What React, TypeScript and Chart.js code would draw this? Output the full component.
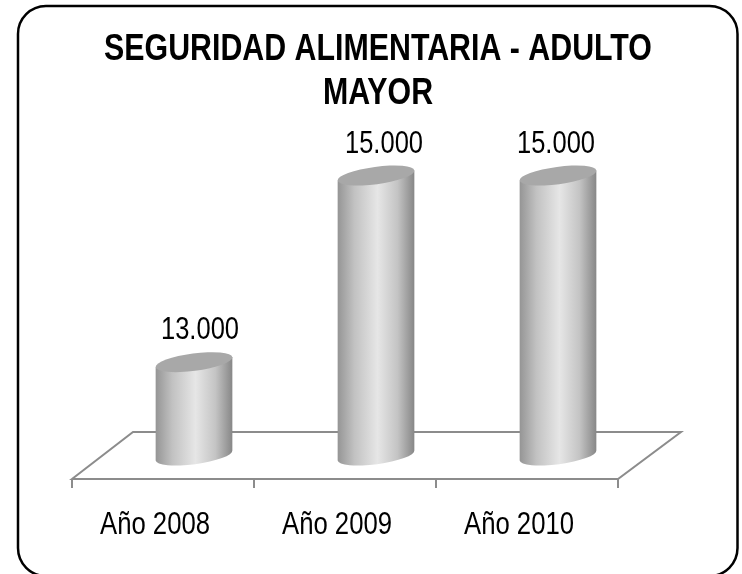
import React, { useEffect, useRef } from "react";
import { Chart, registerables } from "chart.js";

Chart.register(...registerables);

const categories = ["Año 2008", "Año 2009", "Año 2010"];
const seriesValues = [13000, 15000, 15000];
const titleLines = ["SEGURIDAD ALIMENTARIA - ADULTO", "MAYOR"];
const labelNudge = [6, 8, -2];

const FONT = "'Liberation Sans', Arial, sans-serif";
const formatValue = (v: number) =>
  String(v).replace(/\B(?=(\d{3})+$)/g, ".");

const framePlugin = {
  id: "frame",
  beforeDraw(chart: any) {
    const { ctx } = chart;
    ctx.save();
    ctx.fillStyle = "#ffffff";
    ctx.fillRect(0, 0, chart.width, chart.height);
    ctx.strokeStyle = "#000000";
    ctx.lineWidth = 2.5;
    ctx.beginPath();
    ctx.roundRect(2, 6, 719.5, 570, 28);
    ctx.stroke();
    ctx.restore();
  },
  afterLayout(chart: any) {
    // the reference's title is condensed horizontally; no narrow face is installed
    const tb = chart.titleBlock;
    if (!tb || tb.__condensed) return;
    tb.__condensed = true;
    const orig = tb.draw.bind(tb);
    tb.draw = (area: any) => {
      const c = chart.width / 2;
      tb.left = 0;
      tb.right = chart.width;
      chart.ctx.save();
      chart.ctx.translate(c, 0);
      chart.ctx.scale(0.843, 1);
      chart.ctx.translate(-c, 0);
      orig(area);
      chart.ctx.restore();
    };
  },
};

const floorPlugin = {
  id: "floor",
  beforeDatasetsDraw(chart: any) {
    const { ctx, scales } = chart;
    const x = scales.x;
    const base = scales.y.getPixelForValue(scales.y.min);
    const d = 31;
    const h = 23.5;
    ctx.save();
    ctx.strokeStyle = "#8c8c8c";
    ctx.lineWidth = 2;
    ctx.lineJoin = "miter";
    ctx.beginPath();
    ctx.moveTo(x.left - d, base + h);
    ctx.lineTo(x.left + d - 1, base - h);
    ctx.lineTo(x.right + d + 1, base - h);
    ctx.lineTo(x.right - d, base + h);
    ctx.closePath();
    ctx.stroke();
    const band = (x.right - x.left) / categories.length;
    ctx.beginPath();
    for (let i = 0; i <= categories.length; i++) {
      const px = x.left - d + band * i;
      ctx.moveTo(px, base + h);
      ctx.lineTo(px, base + h + 9);
    }
    ctx.stroke();

    ctx.fillStyle = "#000000";
    ctx.font = `31px ${FONT}`;
    ctx.textAlign = "center";
    ctx.textBaseline = "middle";
    categories.forEach((label, i) => {
      ctx.fillText(label, x.getPixelForTick(i) - 39, base + 69.5, 110);
    });
    ctx.restore();
  },
};

const cylinderPlugin = {
  id: "cylinder",
  beforeDatasetDraw(chart: any, args: any) {
    const { ctx, scales } = chart;
    const meta = args.meta;
    const rot = -0.13;
    const base = scales.y.getPixelForValue(scales.y.min);
    ctx.save();
    meta.data.forEach((el: any, i: number) => {
      const p = el.getProps(["x", "y", "width"], true);
      const rx = p.width / 2;
      const ry = 8.7;
      const dx = rx * Math.cos(rot);
      const dy = rx * Math.sin(rot);
      const g = ctx.createLinearGradient(p.x - dx, 0, p.x + dx, 0);
      g.addColorStop(0, "#959595");
      g.addColorStop(0.22, "#c2c2c2");
      g.addColorStop(0.52, "#e6e6e6");
      g.addColorStop(0.78, "#c4c4c4");
      g.addColorStop(1, "#878787");
      ctx.fillStyle = g;
      ctx.beginPath();
      ctx.moveTo(p.x - dx, p.y - dy);
      ctx.lineTo(p.x - dx, base - dy);
      ctx.ellipse(p.x, base, rx, ry, rot, Math.PI, 0, true);
      ctx.lineTo(p.x + dx, p.y + dy);
      ctx.closePath();
      ctx.fill();
      ctx.fillStyle = "#a8a8a8";
      ctx.beginPath();
      ctx.ellipse(p.x, p.y, rx, ry, rot, 0, Math.PI * 2);
      ctx.fill();

      ctx.fillStyle = "#000000";
      ctx.font = `32px ${FONT}`;
      ctx.textAlign = "center";
      ctx.textBaseline = "middle";
      ctx.fillText(formatValue(seriesValues[i]), p.x + labelNudge[i], p.y - 31.5, 78);
    });
    ctx.restore();
    return false;
  },
};

export default function App() {
  const ref = useRef<HTMLCanvasElement>(null);
  useEffect(() => {
    const chart = new Chart(ref.current!, {
      type: "bar",
      data: {
        labels: categories,
        datasets: [
          {
            label: "Seguridad alimentaria",
            data: seriesValues,
            backgroundColor: "#bfbfbf",
            barPercentage: 0.425,
            categoryPercentage: 1,
          },
        ],
      },
      plugins: [framePlugin, floorPlugin, cylinderPlugin],
      options: {
        responsive: false,
        animation: false,
        layout: { padding: { left: 87, right: 91, top: 28, bottom: 118.5 } },
        plugins: {
          legend: { display: false },
          tooltip: { enabled: false },
          title: {
            display: true,
            text: titleLines,
            color: "#000000",
            font: { family: FONT, size: 36, weight: "bold", lineHeight: 1.22 },
            padding: { top: 0, bottom: 13 },
          },
        },
        scales: {
          x: {
            grid: { display: false, drawTicks: false },
            border: { display: false },
            ticks: { display: false },
          },
          y: { display: false, min: 12000, max: 15500 },
        },
      } as any,
    });
    return () => chart.destroy();
  }, []);
  return (
    <canvas
      ref={ref}
      width={724}
      height={574}
      style={{ position: "absolute", left: 16, top: 0, display: "block" }}
    />
  );
}
